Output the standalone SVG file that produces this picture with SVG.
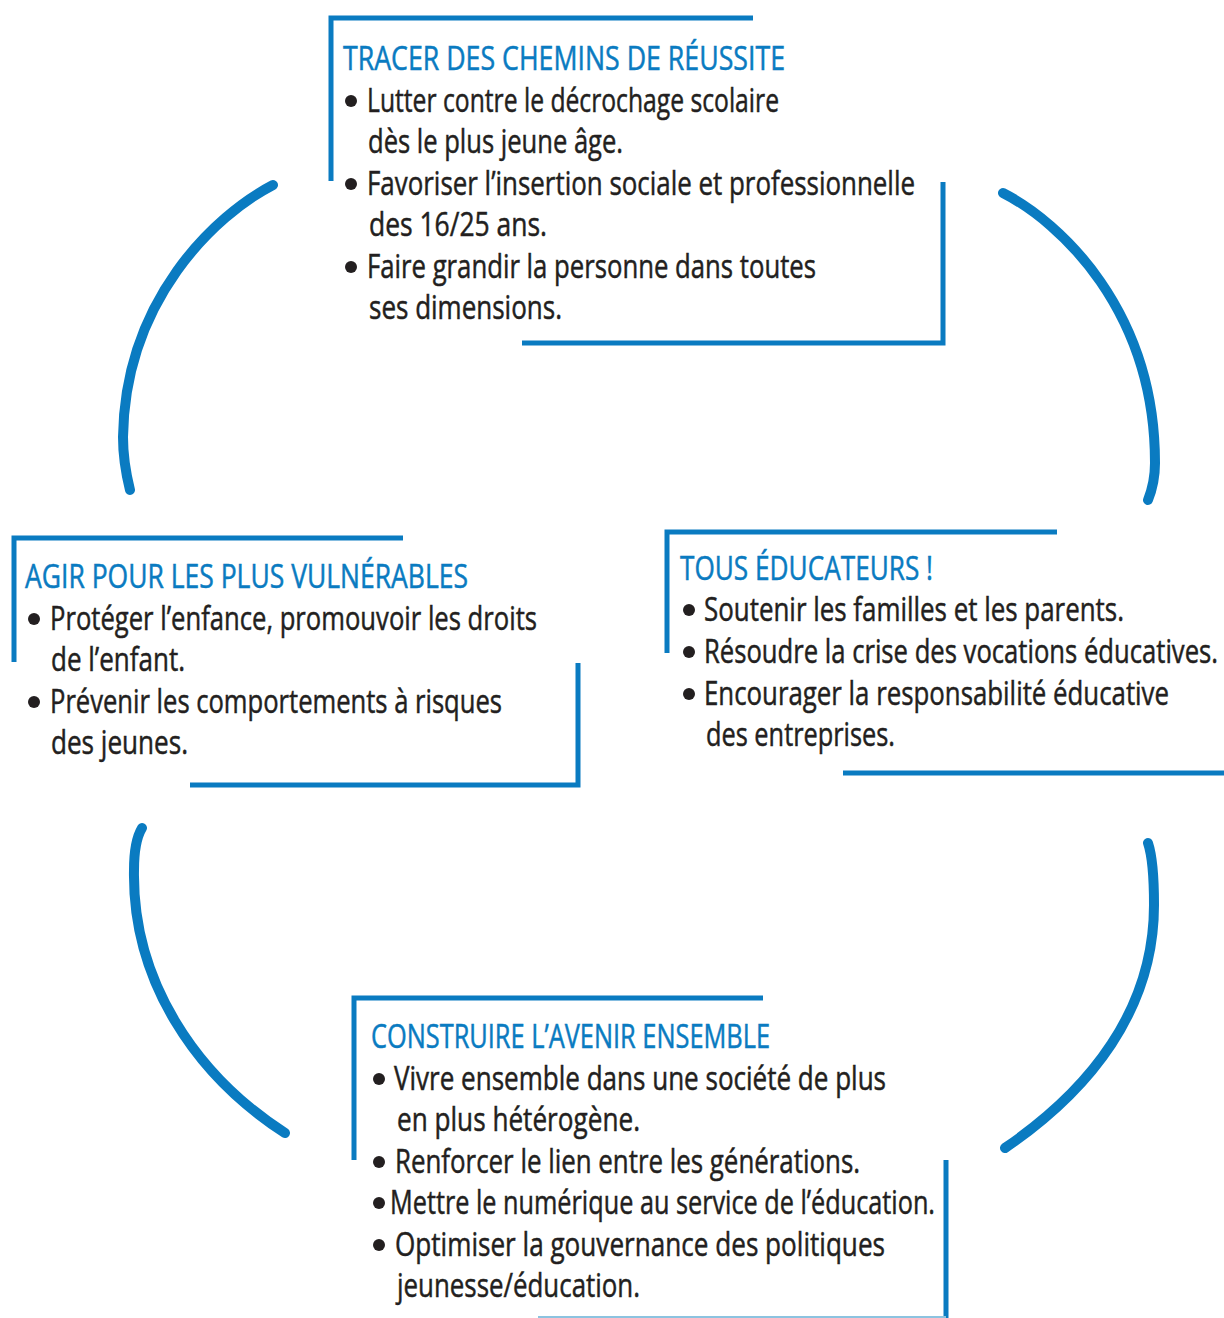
<svg xmlns="http://www.w3.org/2000/svg" width="1224" height="1318" viewBox="0 0 1224 1318">
<style>
.frame{fill:none;stroke:#0a7bc1;stroke-width:5;stroke-linecap:butt;stroke-linejoin:miter}
.arc{fill:none;stroke:#0a7bc1;stroke-width:10;stroke-linecap:round}
.title{font-family:"Open Sans","Liberation Sans",sans-serif;font-size:33px;fill:#0a7bc1;stroke:#0a7bc1;stroke-width:0.5}
.txt{font-family:"Open Sans","Liberation Sans",sans-serif;font-size:33px;fill:#231f20;stroke:#231f20;stroke-width:0.5}
.dot{fill:#231f20}
</style>
<rect width="1224" height="1318" fill="#ffffff"/>
<g id="connectors">
<path class="arc" d="M273,185 C215,215 125,300 123,437 C123,460 127,478 130,490"/>
<path class="arc" d="M1003,193 C1060,222 1155,310 1155,463 C1155,480 1152,490 1148,500"/>
<path class="arc" d="M1148,843 C1152,855 1154,880 1154,905 C1154,1010 1090,1090 1005,1148"/>
<path class="arc" d="M142,828 C136,838 134,850 134,870 C132,980 195,1075 285,1133"/>
</g>
<g id="node-tracer">
<path class="frame" d="M753,18 H331 V181"/>
<path class="frame" d="M522,343 H943 V182"/>
<text class="title" x="343" y="70" textLength="442" lengthAdjust="spacingAndGlyphs">TRACER DES CHEMINS DE RÉUSSITE</text>
<circle class="dot" cx="351" cy="101" r="6"/>
<circle class="dot" cx="351" cy="184" r="6"/>
<circle class="dot" cx="351" cy="267" r="6"/>
<text class="txt" x="367" y="112" textLength="412" lengthAdjust="spacingAndGlyphs">Lutter contre le décrochage scolaire</text>
<text class="txt" x="368" y="153" textLength="255" lengthAdjust="spacingAndGlyphs">dès le plus jeune âge.</text>
<text class="txt" x="367" y="195" textLength="548" lengthAdjust="spacingAndGlyphs">Favoriser l’insertion sociale et professionnelle</text>
<text class="txt" x="369" y="236" textLength="178" lengthAdjust="spacingAndGlyphs">des 16/25 ans.</text>
<text class="txt" x="367" y="278" textLength="449" lengthAdjust="spacingAndGlyphs">Faire grandir la personne dans toutes</text>
<text class="txt" x="369" y="319" textLength="193" lengthAdjust="spacingAndGlyphs">ses dimensions.</text>
</g>
<g id="node-agir">
<path class="frame" d="M403,538 H14 V662"/>
<path class="frame" d="M190,785 H578 V663"/>
<text class="title" x="25" y="588" textLength="443" lengthAdjust="spacingAndGlyphs">AGIR POUR LES PLUS VULNÉRABLES</text>
<circle class="dot" cx="34" cy="619" r="6"/>
<circle class="dot" cx="34" cy="702" r="6"/>
<text class="txt" x="50" y="630" textLength="487" lengthAdjust="spacingAndGlyphs">Protéger l’enfance, promouvoir les droits</text>
<text class="txt" x="51" y="671" textLength="134" lengthAdjust="spacingAndGlyphs">de l’enfant.</text>
<text class="txt" x="50" y="713" textLength="452" lengthAdjust="spacingAndGlyphs">Prévenir les comportements à risques</text>
<text class="txt" x="51" y="754" textLength="137" lengthAdjust="spacingAndGlyphs">des jeunes.</text>
</g>
<g id="node-educateurs">
<path class="frame" d="M1057,532 H667 V653"/>
<path class="frame" d="M843,773 H1224"/>
<text class="title" x="680" y="580" textLength="253" lengthAdjust="spacingAndGlyphs">TOUS ÉDUCATEURS !</text>
<circle class="dot" cx="689" cy="610" r="6"/>
<circle class="dot" cx="689" cy="652" r="6"/>
<circle class="dot" cx="689" cy="694" r="6"/>
<text class="txt" x="704" y="621" textLength="420" lengthAdjust="spacingAndGlyphs">Soutenir les familles et les parents.</text>
<text class="txt" x="704" y="663" textLength="514" lengthAdjust="spacingAndGlyphs">Résoudre la crise des vocations éducatives.</text>
<text class="txt" x="704" y="705" textLength="465" lengthAdjust="spacingAndGlyphs">Encourager la responsabilité éducative</text>
<text class="txt" x="706" y="746" textLength="189" lengthAdjust="spacingAndGlyphs">des entreprises.</text>
</g>
<g id="node-construire">
<path class="frame" d="M763,998 H354 V1160"/>
<path class="frame" d="M946,1160 V1318"/>
<line x1="538" y1="1317" x2="946" y2="1317" stroke="#8cc3e0" stroke-width="2"/>
<text class="title" x="371" y="1048" textLength="399" lengthAdjust="spacingAndGlyphs">CONSTRUIRE L’AVENIR ENSEMBLE</text>
<circle class="dot" cx="379" cy="1079" r="6"/>
<circle class="dot" cx="379" cy="1162" r="6"/>
<circle class="dot" cx="379" cy="1203" r="6"/>
<circle class="dot" cx="379" cy="1245" r="6"/>
<text class="txt" x="394" y="1090" textLength="492" lengthAdjust="spacingAndGlyphs">Vivre ensemble dans une société de plus</text>
<text class="txt" x="397" y="1131" textLength="243" lengthAdjust="spacingAndGlyphs">en plus hétérogène.</text>
<text class="txt" x="395" y="1173" textLength="465" lengthAdjust="spacingAndGlyphs">Renforcer le lien entre les générations.</text>
<text class="txt" x="390" y="1214" textLength="545" lengthAdjust="spacingAndGlyphs">Mettre le numérique au service de l’éducation.</text>
<text class="txt" x="395" y="1256" textLength="490" lengthAdjust="spacingAndGlyphs">Optimiser la gouvernance des politiques</text>
<text class="txt" x="397" y="1297" textLength="243" lengthAdjust="spacingAndGlyphs">jeunesse/éducation.</text>
</g>
</svg>
